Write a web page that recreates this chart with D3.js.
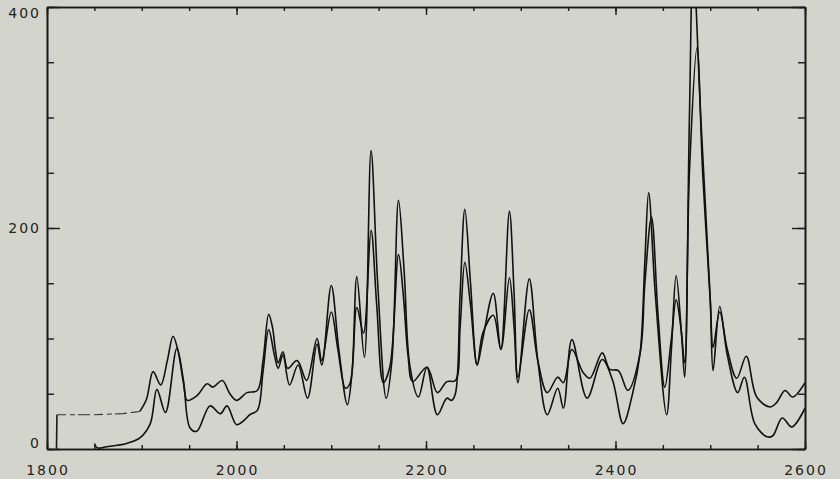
<!DOCTYPE html>
<html>
<head>
<meta charset="utf-8">
<script src="https://cdn.jsdelivr.net/npm/d3@7"></script>
<style>
  body { margin: 0; background: #d3d5cc; }
  svg { display: block; }
  .lbl { font-family: "DejaVu Sans", sans-serif; font-size: 14px; fill: #222; letter-spacing: 2px; }
</style>
</head>
<body>
<svg id="chart"></svg>
<script>
// upper trace (higher valleys, starts with flat baseline near 30)
let xA = [1810, 1810.5, 1850, 1880, 1898, 1905, 1912, 1920, 1927, 1933, 1938, 1944, 1948, 1958, 1969, 1975, 1985, 1993,
  2000, 2011, 2022, 2028, 2034, 2038, 2041, 2044, 2049, 2054, 2064, 2074, 2085, 2090, 2100, 2107, 2115, 2120, 2127, 2134,
  2142, 2148, 2155, 2162, 2171, 2176, 2181, 2186, 2201, 2212, 2222, 2231, 2236, 2241, 2247, 2254, 2260, 2271, 2279, 2288, 2293,
  2297, 2309, 2318, 2328, 2339, 2345, 2354, 2366, 2373, 2386, 2394, 2403, 2413, 2426, 2431, 2438, 2445, 2452, 2459, 2464,
  2469, 2473, 2478, 2486, 2492, 2500, 2503, 2510, 2518, 2528, 2538, 2549, 2563, 2570, 2579, 2587, 2600];
let yA = [0, 31, 31, 32, 34, 45, 70, 58, 80, 102, 90, 60, 44, 48, 59, 56, 62, 50,
  44, 51, 53, 80, 122, 110, 90, 78, 88, 73, 80, 62, 100, 80, 124, 90, 55, 60, 128, 105,
  198, 130, 60, 75, 176, 140, 85, 61, 74, 51, 61, 62, 110, 169, 130, 76, 105, 121, 90, 155, 110,
  65, 126, 80, 51, 65, 60, 90, 69, 64, 87, 72, 71, 53, 87, 150, 210, 120, 56, 100, 135,
  110, 78, 250, 363, 250, 135, 92, 124, 90, 64, 84, 47, 38, 42, 53, 47, 60];

// lower trace (deeper valleys, sharper peaks)
let xB = [1850, 1853, 1863, 1884, 1898, 1909, 1916, 1925, 1937, 1944, 1951, 1958, 1972, 1983, 1990,
  2000, 2008, 2014, 2022, 2028, 2034, 2040, 2044, 2049, 2056, 2065, 2075, 2085, 2090, 2100, 2108, 2117, 2122, 2127, 2135,
  2142, 2149, 2158, 2164, 2171, 2177, 2183, 2192, 2201, 2212, 2222, 2227, 2231, 2236, 2241, 2247, 2254, 2260, 2271, 2279, 2288,
  2293, 2297, 2309, 2318, 2328, 2339, 2345, 2354, 2370, 2386, 2397, 2408, 2418, 2426, 2431, 2435, 2442, 2454, 2459, 2464,
  2470, 2473, 2478, 2482, 2490, 2500, 2503, 2510, 2518, 2529, 2536, 2547, 2560, 2566, 2576, 2586, 2600];
let yB = [5, 1, 2, 5, 10, 23, 54, 33, 91, 62, 19, 16, 39, 32, 39,
  22, 26, 31, 35, 70, 108, 85, 73, 85, 58, 76, 46, 95, 76, 148, 90, 40, 70, 156, 83,
  270, 150, 46, 80, 225, 160, 75, 47, 74, 31, 46, 44, 50, 140, 217, 150, 76, 100, 141, 90, 215,
  140, 60, 154, 80, 31, 55, 37, 99, 46, 81, 62, 23, 50, 87, 170, 232, 140, 31, 90, 157,
  100, 65, 300, 440, 300, 135, 71, 129, 85, 51, 65, 23, 11, 12, 28, 20, 37];

let xTicksMajor = [1800, 2000, 2200, 2400, 2600];
let yTicksMajor = [0, 200, 400];

let w = 840, h = 479;
let padL = 47, padR = 805, padT = 7, padB = 449;
let svg = d3.select('#chart').attr('width', w).attr('height', h);

let xScale = d3.scaleLinear().domain([1800, 2600]).range([padL, padR]);
let yScale = d3.scaleLinear().domain([0, 400]).range([padB, padT]);

svg.append('clipPath').attr('id', 'plot')
  .append('rect').attr('x', padL).attr('y', padT).attr('width', padR - padL).attr('height', padB - padT);

let minorX = d3.range(1800, 2601, 50);
let minorY = d3.range(0, 401, 50);

// axes: ticks point inward on all four sides
let drawAxis = (axis, tr) => {
  let g = svg.append('g').attr('transform', tr).call(axis);
  g.select('.domain').attr('stroke', '#1a1a1a').attr('stroke-width', 1.6);
  g.selectAll('.tick line').attr('stroke', '#1a1a1a').attr('stroke-width', 1.4);
  g.selectAll('.tick text').remove();
  return g;
};
drawAxis(d3.axisBottom(xScale).tickValues(minorX).tickSize(-4).tickSizeOuter(0), 'translate(0,' + padB + ')');
drawAxis(d3.axisBottom(xScale).tickValues(xTicksMajor).tickSize(-8).tickSizeOuter(0), 'translate(0,' + padB + ')');
drawAxis(d3.axisTop(xScale).tickValues(minorX).tickSize(-4).tickSizeOuter(0), 'translate(0,' + padT + ')');
drawAxis(d3.axisTop(xScale).tickValues(xTicksMajor).tickSize(-8).tickSizeOuter(0), 'translate(0,' + padT + ')');
drawAxis(d3.axisLeft(yScale).tickValues(minorY).tickSize(-7).tickSizeOuter(0), 'translate(' + padL + ',0)');
drawAxis(d3.axisLeft(yScale).tickValues(yTicksMajor).tickSize(-13).tickSizeOuter(0), 'translate(' + padL + ',0)');
drawAxis(d3.axisRight(yScale).tickValues(minorY).tickSize(-7).tickSizeOuter(0), 'translate(' + padR + ',0)');
drawAxis(d3.axisRight(yScale).tickValues(yTicksMajor).tickSize(-13).tickSizeOuter(0), 'translate(' + padR + ',0)');

// tick labels
svg.selectAll('.xl').data(xTicksMajor).enter().append('text')
  .attr('class', 'lbl')
  .attr('x', d => xScale(d) + 1)
  .attr('y', 475)
  .attr('text-anchor', 'middle')
  .text(d => d);
svg.selectAll('.yl').data(yTicksMajor).enter().append('text')
  .attr('class', 'lbl')
  .attr('x', 41)
  .attr('y', d => Math.min(Math.max(yScale(d) + 5, 18), 448))
  .attr('text-anchor', 'end')
  .text(d => d);

let line = d3.line()
  .x(d => xScale(d[0]))
  .y(d => yScale(d[1]))
  .curve(d3.curveCatmullRom.alpha(0.5));

let ptsA = xA.map((x, i) => [x, yA[i]]);
let ptsB = xB.map((x, i) => [x, yB[i]]);

let plot = svg.append('g').attr('clip-path', 'url(#plot)');

// lead-in of the upper trace is faint and broken in the original
plot.append('path')
  .attr('d', d3.line().x(d => xScale(d[0])).y(d => yScale(d[1]))(ptsA.slice(0, 2)))
  .attr('fill', 'none').attr('stroke', '#1a1a1a').attr('stroke-width', 1.6);
plot.append('path')
  .attr('d', d3.line().x(d => xScale(d[0])).y(d => yScale(d[1]))(ptsA.slice(1, 5)))
  .attr('fill', 'none').attr('stroke', '#333').attr('stroke-width', 1.1)
  .attr('stroke-dasharray', '9,4,5,3,12,4');
plot.append('path')
  .attr('d', line(ptsA.slice(4)))
  .attr('fill', 'none').attr('stroke', '#111').attr('stroke-width', 1.6);
plot.append('path')
  .attr('d', line(ptsB))
  .attr('fill', 'none').attr('stroke', '#111').attr('stroke-width', 1.6);
</script>
</body>
</html>
